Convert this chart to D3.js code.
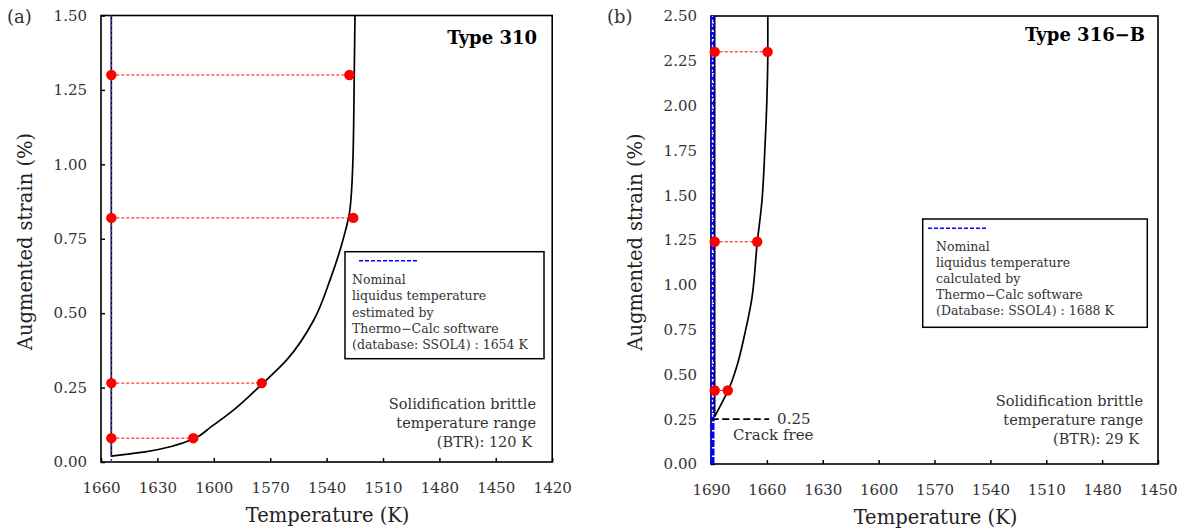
<!DOCTYPE html>
<html>
<head>
<meta charset="utf-8">
<script src="https://cdn.jsdelivr.net/npm/d3@7"></script>
<style>
    body { margin: 0; background: #fff; }
    svg text { font-family: "DejaVu Serif", serif; }
</style>
</head>
<body>
<div id="chart"></div>
<script>

// ---- panel (a) : Type 310 ----
const tempTicksA = [1660, 1630, 1600, 1570, 1540, 1510, 1480, 1450, 1420];
const strainTicksA = [0, 0.25, 0.5, 0.75, 1.0, 1.25, 1.5];
const liquidusA = 1654.5;
const curveTempA = [1654.5, 1635.7, 1621.5, 1610.9, 1601.5, 1591.4, 1574.5, 1561.2, 1546.8, 1538.2, 1531.3, 1527.6, 1526.0, 1525.3, 1524.9];
const curveStrainA = [0.02, 0.035, 0.054, 0.077, 0.118, 0.165, 0.261, 0.343, 0.477, 0.611, 0.746, 0.847, 1.015, 1.294, 1.5];
const pointStrainA = [1.30, 0.82, 0.265, 0.08];
const pointTempA = [1527.9, 1525.8, 1574.5, 1610.9];
const legendLinesA = ["Nominal", "liquidus temperature", "estimated by", "Thermo\u2212Calc software", "(database: SSOL4) : 1654 K"];
const btrLinesA = ["Solidification brittle", "temperature range", "(BTR): 120 K"];

// ---- panel (b) : Type 316-B ----
const tempTicksB = [1690, 1660, 1630, 1600, 1570, 1540, 1510, 1480, 1450];
const strainTicksB = [0, 0.25, 0.5, 0.75, 1.0, 1.25, 1.5, 1.75, 2.0, 2.25, 2.5];
const liquidusB = 1688;
const blueTempB = 1689.2;
const curveTempB = [1688, 1683.4, 1681.1, 1676.2, 1671.8, 1668.2, 1665.2, 1662.6, 1661.1, 1660, 1659.5, 1659.5];
const curveStrainB = [0.264, 0.357, 0.403, 0.543, 0.729, 0.915, 1.232, 1.473, 1.752, 2.031, 2.297, 2.5];
const pointStrainB = [2.30, 1.24, 0.41];
const pointTempB = [1659.6, 1665.2, 1681.0];
const crackFreeStrain = 0.25;
const crackFreeTemp = [1689.6, 1658.8];
const legendLinesB = ["Nominal", "liquidus temperature", "calculated by", "Thermo\u2212Calc software", "(Database: SSOL4) : 1688 K"];
const btrLinesB = ["Solidification brittle", "temperature range", "(BTR): 29 K"];


class StrainPanel {

    constructor(_svg, _cfg) {
        this.svg = _svg;
        this.cfg = _cfg;
        this.initVis();
    }

    initVis() {
        let vis = this;
        let c = vis.cfg;

        vis.g = vis.svg.append("g")
            .attr("transform", `translate(${c.left},${c.top})`);

        vis.x = d3.scaleLinear()
            .domain([c.tempTicks[0], c.tempTicks[c.tempTicks.length - 1]])
            .range([0, c.width]);

        vis.y = d3.scaleLinear()
            .domain([0, c.strainTicks[c.strainTicks.length - 1]])
            .range([c.height, 0]);

        // axes, ticks pointing inward
        let xAxis = d3.axisBottom(vis.x)
            .tickValues(c.tempTicks)
            .tickFormat(d3.format("d"))
            .tickSizeInner(-4).tickSizeOuter(0)
            .tickPadding(20);

        let yAxis = d3.axisLeft(vis.y)
            .tickValues(c.strainTicks)
            .tickFormat(d3.format(".2f"))
            .tickSizeInner(-4).tickSizeOuter(0)
            .tickPadding(14);

        vis.g.append("g")
            .attr("transform", `translate(0,${c.height})`)
            .call(xAxis)
            .call(g => g.select(".domain").remove())
            .call(g => g.selectAll("line").attr("stroke", "#000").attr("stroke-width", 1.5))
            .call(g => g.selectAll("text").attr("font-size", 15).attr("fill", "#333").attr("font-family", "DejaVu Serif"));

        vis.g.append("g")
            .call(yAxis)
            .call(g => g.select(".domain").remove())
            .call(g => g.selectAll("line").attr("stroke", "#000").attr("stroke-width", 1.5))
            .call(g => g.selectAll("text").attr("font-size", 15).attr("fill", "#333").attr("font-family", "DejaVu Serif"));

        // frame
        vis.g.append("rect")
            .attr("width", c.width)
            .attr("height", c.height)
            .attr("fill", "none")
            .attr("stroke", "#000")
            .attr("stroke-width", 1.6);

        vis.line = d3.line()
            .x(d => vis.x(d[0]))
            .y(d => vis.y(d[1]));

        vis.drawMarks();
        vis.drawText();
    }

    drawMarks() {
        let vis = this;
        let c = vis.cfg;
        let yMax = c.strainTicks[c.strainTicks.length - 1];

        // vertical part at the liquidus
        vis.g.append("path")
            .attr("d", vis.line([[c.liquidus, c.curveStrain[0]], [c.liquidus, yMax]]))
            .attr("stroke", "#000").attr("stroke-width", 1.6).attr("fill", "none");

        // nominal liquidus (blue dashed)
        if (c.thickBlue) {
            vis.g.append("path")
                .attr("d", vis.line([[c.blueTemp, 0], [c.blueTemp, yMax]]))
                .attr("stroke", "#0000ff").attr("stroke-width", 4)
                .attr("stroke-dasharray", "7,1.5").attr("fill", "none");
            vis.g.append("path")
                .attr("d", vis.line([[c.blueTemp, c.curveStrain[0]], [c.blueTemp, yMax]]))
                .attr("stroke", "#fff").attr("stroke-width", 1.2)
                .attr("stroke-dasharray", "2,3").attr("fill", "none");
        } else {
            vis.g.append("path")
                .attr("d", vis.line([[c.blueTemp, 0], [c.blueTemp, yMax]]))
                .attr("stroke", "#2a3cb8").attr("stroke-width", 1.4)
                .attr("stroke-dasharray", "3,2").attr("fill", "none");
        }

        // BTR curve
        let curveData = c.curveTemp.map((t, i) => [t, c.curveStrain[i]]);
        vis.g.append("path")
            .attr("d", d3.line()
                .x(d => vis.x(d[0]))
                .y(d => vis.y(d[1]))
                .curve(d3.curveMonotoneY)(curveData))
            .attr("stroke", "#000").attr("stroke-width", 1.7).attr("fill", "none");

        // crack free line
        if (c.crackFree) {
            vis.g.append("path")
                .attr("d", vis.line([[c.crackFree.temp[0], c.crackFree.strain], [c.crackFree.temp[1], c.crackFree.strain]]))
                .attr("stroke", "#000").attr("stroke-width", 1.8)
                .attr("stroke-dasharray", "7,3.5").attr("fill", "none");
        }

        // red measured points
        let pts = c.pointStrain.map((s, i) => ({strain: s, temp: c.pointTemp[i]}));

        vis.g.selectAll(".conn")
            .data(pts)
            .enter().append("line")
            .attr("class", "conn")
            .attr("x1", vis.x(c.liquidus))
            .attr("x2", d => vis.x(d.temp))
            .attr("y1", d => vis.y(d.strain))
            .attr("y2", d => vis.y(d.strain))
            .attr("stroke", "#ff0000").attr("stroke-width", 1)
            .attr("stroke-dasharray", "3,2");

        vis.g.selectAll(".dotL")
            .data(pts)
            .enter().append("circle")
            .attr("class", "dotL")
            .attr("cx", vis.x(c.liquidus))
            .attr("cy", d => vis.y(d.strain))
            .attr("r", 5.2)
            .attr("fill", "#ff0000");

        vis.g.selectAll(".dotR")
            .data(pts)
            .enter().append("circle")
            .attr("class", "dotR")
            .attr("cx", d => vis.x(d.temp))
            .attr("cy", d => vis.y(d.strain))
            .attr("r", 5.2)
            .attr("fill", "#ff0000");
    }

    drawText() {
        let vis = this;
        let c = vis.cfg;

        // panel label
        vis.svg.append("text")
            .attr("x", c.tag.x).attr("y", c.tag.y).attr("dy", "0.35em")
            .attr("font-size", 18).attr("fill", "#333")
            .text(c.tag.text);

        // title
        vis.svg.append("text")
            .attr("x", c.title.x).attr("y", c.title.y).attr("dy", "0.35em")
            .attr("text-anchor", "end")
            .attr("font-size", 18).attr("font-weight", "bold").attr("fill", "#000")
            .text(c.title.text);

        // axis titles
        vis.svg.append("text")
            .attr("x", c.left + c.width / 2 + 1).attr("y", c.top + c.height + 53).attr("dy", "0.35em")
            .attr("text-anchor", "middle")
            .attr("font-size", 19.5).attr("fill", "#222")
            .text("Temperature (K)");

        vis.svg.append("text")
            .attr("transform", `translate(${c.left - 76},${c.top + 226}) rotate(-90)`)
            .attr("dy", "0.35em")
            .attr("text-anchor", "middle")
            .attr("font-size", 19.5).attr("fill", "#222")
            .text("Augmented strain (%)");

        // legend box
        let lg = c.legend;
        vis.svg.append("rect")
            .attr("x", lg.x).attr("y", lg.y)
            .attr("width", lg.w).attr("height", lg.h)
            .attr("fill", "#fff").attr("stroke", "#000").attr("stroke-width", 1.5);

        vis.svg.append("line")
            .attr("x1", lg.lineX[0]).attr("x2", lg.lineX[1])
            .attr("y1", lg.lineY).attr("y2", lg.lineY)
            .attr("stroke", "#0000ff").attr("stroke-width", 1.6)
            .attr("stroke-dasharray", "4,2");

        vis.svg.selectAll(null)
            .data(lg.lines)
            .enter().append("text")
            .attr("x", lg.textX)
            .attr("y", (d, i) => lg.textY + i * lg.step)
            .attr("dy", "0.35em")
            .attr("font-size", 12.5).attr("fill", "#333")
            .text(d => d);

        // BTR note
        let bt = c.btr;
        vis.svg.selectAll(null)
            .data(bt.lines)
            .enter().append("text")
            .attr("x", (d, i) => i === 2 ? bt.x - 4 : bt.x)
            .attr("y", (d, i) => bt.y + i * 19)
            .attr("dy", "0.35em")
            .attr("text-anchor", "end")
            .attr("font-size", 14.5).attr("fill", "#333")
            .text(d => d);

        if (c.crackFree) {
            vis.g.append("text")
                .attr("x", vis.x(c.crackFree.temp[1]) + 8)
                .attr("y", vis.y(c.crackFree.strain)).attr("dy", "0.35em")
                .attr("font-size", 15).attr("fill", "#333")
                .text("0.25");
            vis.g.append("text")
                .attr("x", vis.x(c.crackFree.temp[1]) - 36)
                .attr("y", vis.y(c.crackFree.strain) + 16).attr("dy", "0.35em")
                .attr("font-size", 15).attr("fill", "#333")
                .text("Crack free");
        }
    }
}


let svg = d3.select("#chart").append("svg")
    .attr("width", 1185)
    .attr("height", 530);

new StrainPanel(svg, {
    left: 101, top: 15.5, width: 451.2, height: 446.5,
    tempTicks: tempTicksA, strainTicks: strainTicksA,
    liquidus: liquidusA, blueTemp: liquidusA, thickBlue: false,
    curveTemp: curveTempA, curveStrain: curveStrainA,
    pointTemp: pointTempA, pointStrain: pointStrainA,
    tag: {text: "(a)", x: 7, y: 17},
    title: {text: "Type 310", x: 537, y: 38},
    legend: {x: 345, y: 251.7, w: 199, h: 107, lineX: [359, 417], lineY: 260.7,
             textX: 352, textY: 280, step: 16.1, lines: legendLinesA},
    btr: {x: 536, y: 404, lines: btrLinesA}
});

new StrainPanel(svg, {
    left: 711, top: 16, width: 447, height: 448,
    tempTicks: tempTicksB, strainTicks: strainTicksB,
    liquidus: liquidusB, blueTemp: blueTempB, thickBlue: true,
    curveTemp: curveTempB, curveStrain: curveStrainB,
    pointTemp: pointTempB, pointStrain: pointStrainB,
    crackFree: {strain: crackFreeStrain, temp: crackFreeTemp},
    tag: {text: "(b)", x: 607, y: 17},
    title: {text: "Type 316\u2212B", x: 1145, y: 35},
    legend: {x: 922.7, y: 219, w: 224.6, h: 108.3, lineX: [928, 986], lineY: 228.3,
             textX: 936, textY: 246.7, step: 16.1, lines: legendLinesB},
    btr: {x: 1143, y: 401, lines: btrLinesB}
});

</script>
</body>
</html>
